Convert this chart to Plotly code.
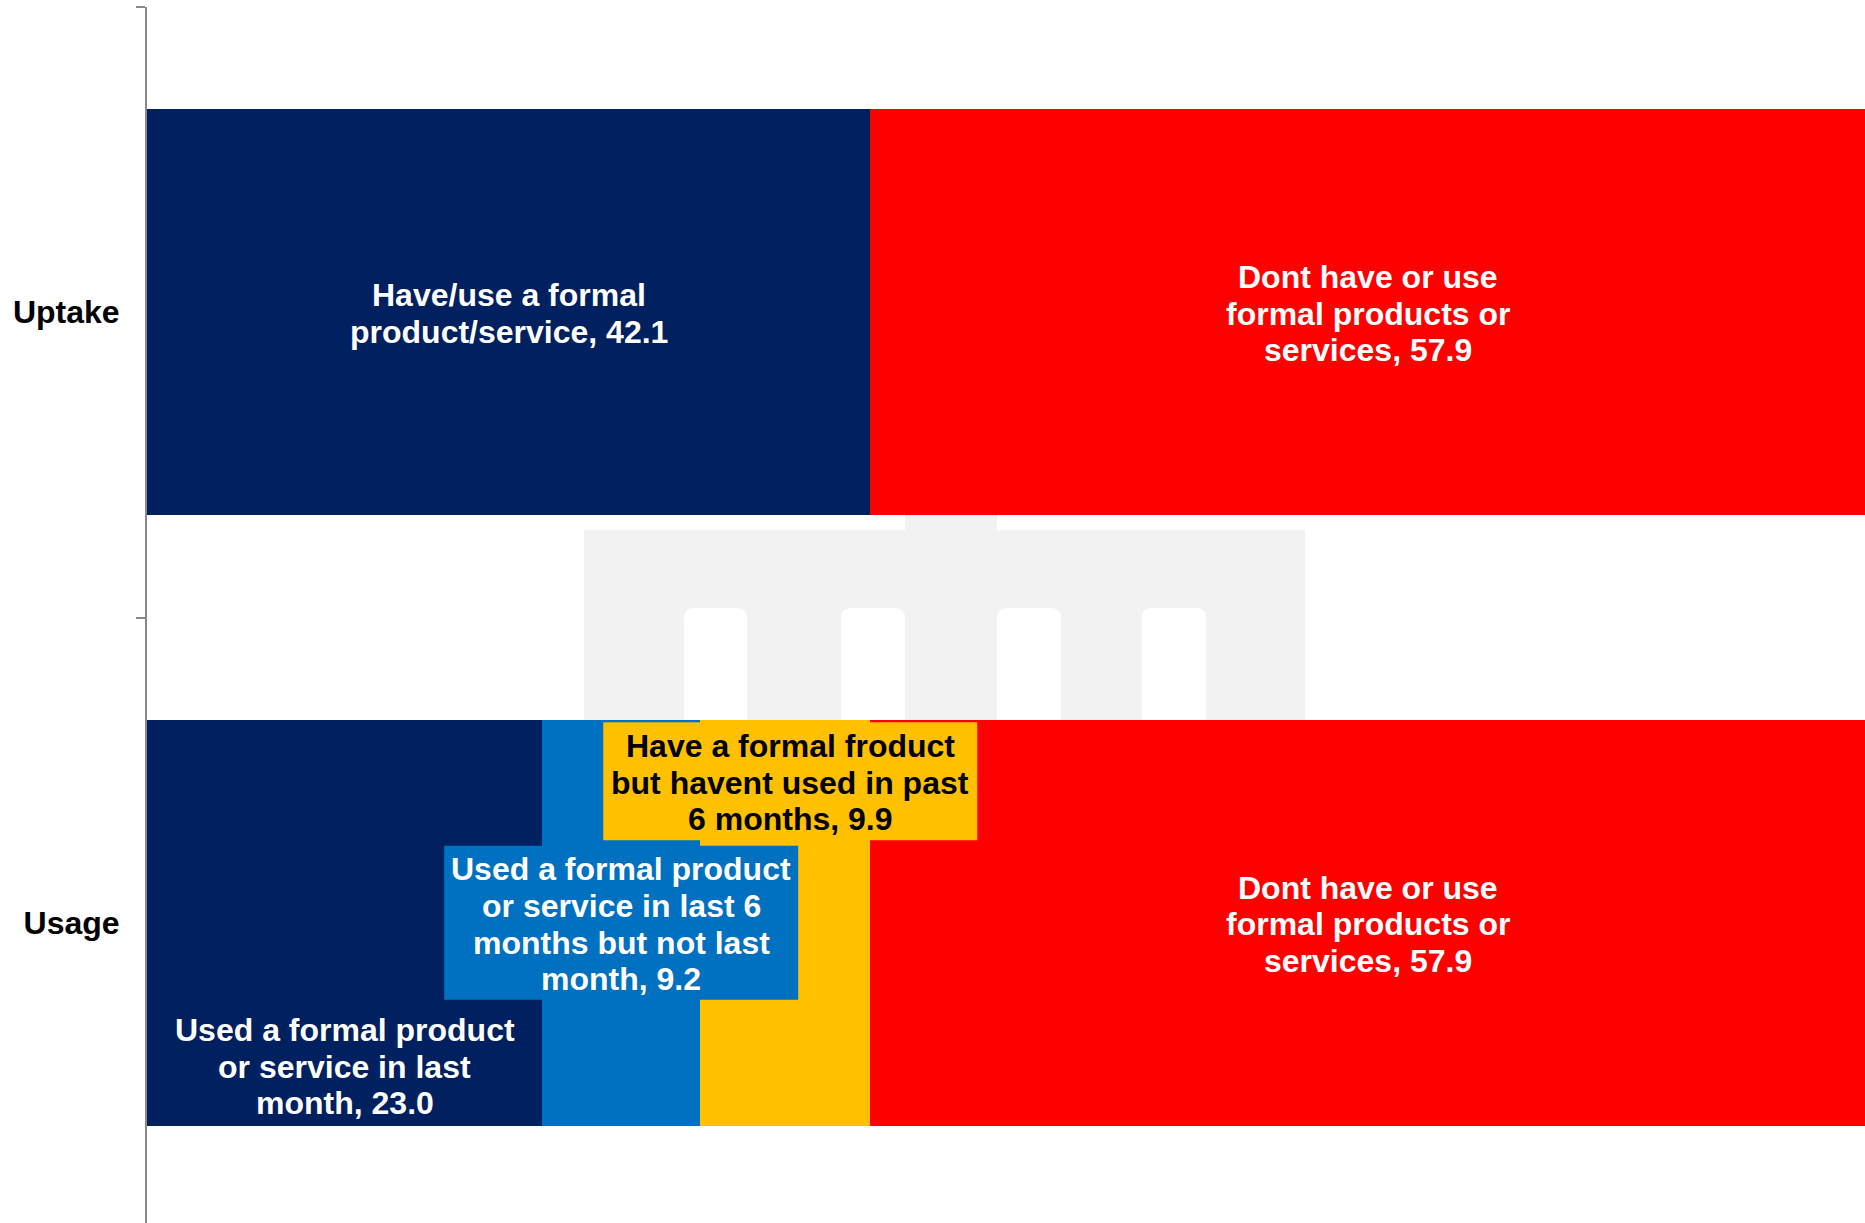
import plotly.graph_objects as go

# ---- data -------------------------------------------------------------
categories = ["Uptake", "Usage"]

uptake_labels = [
    "Have/use a formal\nproduct/service",
    "Dont have or use\nformal products or\nservices",
]
uptake_values = [42.1, 57.9]

usage_labels = [
    "Used a formal product\nor service in last\nmonth",
    "Used a formal product\nor service in last 6\nmonths but not last\nmonth",
    "Have a formal froduct\nbut havent used in past\n6 months",
    "Dont have or use\nformal products or\nservices",
]
usage_values = [23.0, 9.2, 9.9, 57.9]

# ---- styling ----------------------------------------------------------
NAVY, BLUE, GOLD, RED = "#002060", "#0070C0", "#FFC000", "#FF0000"
uptake_colors = [NAVY, RED]
usage_colors = [NAVY, BLUE, GOLD, RED]

# per-label placement: dy = block centre below bar centre (px), dx = horizontal nudge (px),
# box = (width, height) of a filled label background in px, fc = font colour
uptake_styles = [dict(), dict()]
usage_styles = [
    dict(dy=142.5),
    dict(box=(354, 154)),
    dict(dy=-141.5, dx=5, box=(374, 118), fc="black"),
    dict(),
]

FONT = "Liberation Sans, Arial, Helvetica, sans-serif"
FONT_SIZE = 32
LINE_H = 36.6
TEXT_DROP = 1.5  # small downward nudge of label text relative to its box

W, H = 1865, 1223
M_L, M_T = 147, 7

fig = go.Figure()

groups = [
    ("Uptake", uptake_labels, uptake_values, uptake_colors, uptake_styles),
    ("Usage", usage_labels, usage_values, usage_colors, usage_styles),
]

for cat, labels, values, colors, styles in groups:
    start = 0.0
    for lab, val, col, sty in zip(labels, values, colors, styles):
        fig.add_trace(go.Bar(
            y=[cat], x=[val], orientation="h",
            marker=dict(color=col, line=dict(width=0)),
            name=lab.replace("\n", " "), showlegend=False,
            hovertemplate="%{y}: %{x:.1f}<extra>" + lab.replace("\n", " ") + "</extra>",
        ))
        mid = start + val / 2
        dy = sty.get("dy", 0.0)
        dx = sty.get("dx", 0.0)
        fc = sty.get("fc", "white")
        if "box" in sty:
            bw, bh = sty["box"]
            fig.add_shape(
                type="rect", xref="x", yref="y",
                xsizemode="pixel", ysizemode="pixel",
                xanchor=mid, yanchor=cat,
                x0=dx - bw / 2, x1=dx + bw / 2,
                y0=-dy - bh / 2, y1=-dy + bh / 2,
                fillcolor=col, line=dict(width=0), layer="above",
            )
        lines = (lab + f", {val:.1f}").split("\n")
        n = len(lines)
        for i, t in enumerate(lines):
            off = dy + (i - (n - 1) / 2) * LINE_H + TEXT_DROP
            fig.add_annotation(
                x=mid, y=cat, xref="x", yref="y", text=t, showarrow=False,
                xanchor="center", yanchor="middle", xshift=dx, yshift=-off,
                font=dict(family=FONT, size=FONT_SIZE, color=fc, weight="bold"),
            )
        start += val

# ---- faint building watermark behind the bars ---------------------------
PW, PH = W - M_L, H - M_T


def px(xp):
    return (xp - M_L) / PW


def py(yp):
    return (H - yp) / PH


def rect_path(x0, y0, x1, y1):
    return (f"M {px(x0)},{py(y0)} L {px(x1)},{py(y0)} "
            f"L {px(x1)},{py(y1)} L {px(x0)},{py(y1)} Z")


def arch_path(x0, top, x1, bottom, r=10):
    return (f"M {px(x0)},{py(bottom)} L {px(x0)},{py(top + r)} "
            f"Q {px(x0)},{py(top)} {px(x0 + r)},{py(top)} "
            f"L {px(x1 - r)},{py(top)} "
            f"Q {px(x1)},{py(top)} {px(x1)},{py(top + r)} "
            f"L {px(x1)},{py(bottom)} Z")


WM = "#F2F2F2"
fig.add_shape(type="path", xref="paper", yref="paper", layer="below",
              path=rect_path(584, 530, 1305, 780), fillcolor=WM, line=dict(width=0))
fig.add_shape(type="path", xref="paper", yref="paper", layer="below",
              path=rect_path(905, 490, 997, 531), fillcolor=WM, line=dict(width=0))
for wx0, wx1 in [(684, 747), (841, 905), (997, 1061), (1142, 1206)]:
    fig.add_shape(type="path", xref="paper", yref="paper", layer="below",
                  path=arch_path(wx0, 608, wx1, 790), fillcolor="white",
                  line=dict(width=0))

# ---- layout -----------------------------------------------------------
# the category band is ~610.5 px tall; the lower band runs slightly past the bottom edge
band_px = 610.5
y_span = (H - M_T) / band_px

fig.update_layout(
    width=W, height=H,
    margin=dict(l=M_L, r=0, t=M_T, b=0, pad=0),
    barmode="stack", bargap=0.335,
    paper_bgcolor="white", plot_bgcolor="rgba(0,0,0,0)",
    showlegend=False,
    xaxis=dict(range=[0, 100], visible=False, showgrid=False, zeroline=False,
               fixedrange=True),
    yaxis=dict(
        type="category", categoryorder="array", categoryarray=categories,
        range=[-0.5 + y_span, -0.5], tickson="boundaries",
        showline=True, linecolor="#898989", linewidth=2,
        ticks="outside", ticklen=9, tickwidth=2, tickcolor="#898989",
        showgrid=False, zeroline=False, ticklabelstandoff=19,
        tickfont=dict(family=FONT, size=FONT_SIZE, color="black", weight="bold"),
        fixedrange=True,
    ),
)

fig.write_html("out.html", config={"displayModeBar": False})
